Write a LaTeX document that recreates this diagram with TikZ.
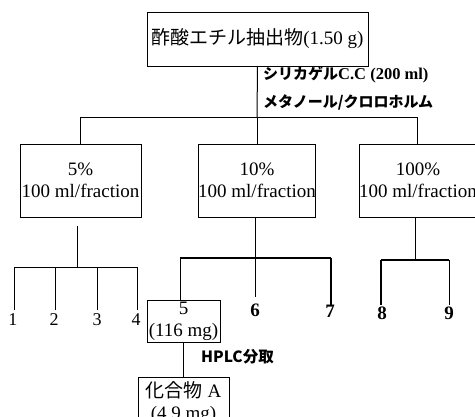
\documentclass[tikz,border=0pt]{standalone}
\usepackage{fontspec}
\setmainfont{Liberation Serif}
\newfontfamily\cjk{Noto Sans CJK JP}
\begin{document}
\begin{tikzpicture}[x=1pt,y=-1pt,
  box/.style={draw, line width=0.9pt, inner sep=0pt, align=center, font=\fontsize{19}{22}\selectfont},
  lab/.style={inner sep=0pt, anchor=west, font=\cjk\bfseries\fontsize{15}{16}\selectfont},
  num/.style={inner sep=0pt, font=\fontsize{18}{20}\selectfont},
  bnum/.style={inner sep=0pt, font=\bfseries\fontsize{19}{20}\selectfont},
  ln/.style={line width=1pt},
  tk/.style={line width=2.2pt}]
\useasboundingbox (0,0) rectangle (475,416);
\clip (0,0) rectangle (475,416);
% boxes
\node[box, minimum width=221pt, minimum height=54pt] (top) at (257.5,39) {{\cjk 酢酸エチル抽出物}(1.50 g)};
\node[lab] (l1) at (263,75) {シリカゲル{\rmfamily\fontsize{16.5}{17}\selectfont C.C (200 ml)}};
\node[lab] (l2) at (263,102) {メタノール/クロロホルム};
\node[box, minimum width=121pt, minimum height=73pt] (bA) at (80.5,180.5) {5\%\\100 ml/fraction};
\node[box, minimum width=116pt, minimum height=73pt] (bB) at (257,180.5) {10\%\\100 ml/fraction};
\node[box, minimum width=118pt, minimum height=73pt] (bC) at (418,180.5) {100\%\\100 ml/fraction};
\node[box, minimum width=73pt, minimum height=42pt] (f5) at (183.5,321) {5\\(116 mg)};
\node[box, minimum width=91pt, minimum height=50pt, anchor=north] (ca) at (183.5,377) {{\cjk 化合物} A\\(4.9 mg)};
\node[lab, font=\cjk\bfseries\fontsize{15.5}{16}\selectfont] (hp) at (201,357) {HPLC分取};
% numbers
\node[num] (n1) at (13,320) {1};
\node[num] (n2) at (54,320) {2};
\node[num] (n3) at (97,320) {3};
\node[num] (n4) at (136,320) {4};
\node[bnum] (n6) at (255,310) {6};
\node[bnum] (n7) at (330,311) {7};
\node[bnum] (n8) at (382,313) {8};
\node[bnum] (n9) at (449,313) {9};
% junction coordinates
\coordinate (j0) at (257,117);
\coordinate (jL) at (80,117);
\coordinate (jR) at (417,117);
\coordinate (aS) at (77,226);
\coordinate (aJ) at (77,267);
\coordinate (a1) at (14,267);
\coordinate (a4) at (137,267);
\coordinate (bJ) at (255,258);
\coordinate (b5) at (180,258);
\coordinate (b7) at (331,258);
\coordinate (cJ) at (415,260);
\coordinate (c8) at (381,260);
\coordinate (c9) at (449,260);
% top connectors
\draw[ln] (top.south) -- (j0);
\draw[ln] (jL) -- (jR);
\draw[ln] (jL) -- (jL |- bA.north);
\draw[ln] (j0) -- (j0 |- bB.north);
\draw[ln] (jR) -- (jR |- bC.north);
% left branch
\draw[ln] (aS) -- (aJ);
\draw[ln] (a1) -- (a4);
\draw[ln] (a1) -- (14,310);
\draw[ln] (55,267) -- (55,310);
\draw[ln] (97,267) -- (97,310);
\draw[ln] (a4) -- (137,310);
% middle branch
\draw[ln] (bJ |- bB.south) -- (255,297);
\draw[tk] (b5) -- (b7);
\draw[ln] (b5) -- (b5 |- f5.north);
\draw[tk] (b7) -- (331,306);
\draw[ln] (183,342) -- (ca.north -| 183,0);
% right branch
\draw[ln] (cJ |- bC.south) -- (cJ);
\draw[tk] (c8) -- (c9);
\draw[tk] (c8) -- (381,305);
\draw[ln] (c9) -- (449,305);
\end{tikzpicture}
\end{document}
